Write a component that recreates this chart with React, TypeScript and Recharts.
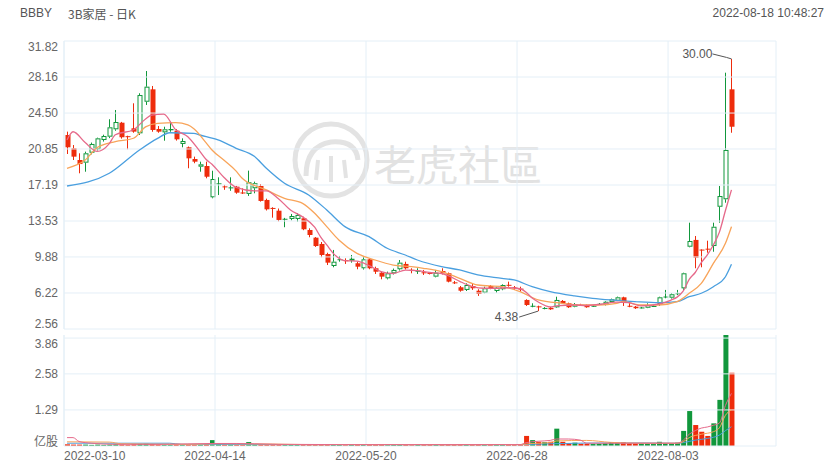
import React from "react";
import { ComposedChart, Bar, Line, XAxis, YAxis, ReferenceLine, ReferenceDot } from "recharts";

const UP = "#11973c";
const DOWN = "#ee2c0c";
const GRID = "#e4eff7";
const TEXT = "#666";
const MA_PINK = "#e6698a";
const MA_ORANGE = "#f8a45a";
const MA_BLUE = "#4a9fdf";

// trading days shown, 2022-03-10 .. 2022-08-17
const DATES = [
  "2022-03-10", "2022-03-11", "2022-03-14", "2022-03-15", "2022-03-16", "2022-03-17", "2022-03-18",
  "2022-03-21", "2022-03-22", "2022-03-23", "2022-03-24", "2022-03-25", "2022-03-28", "2022-03-29",
  "2022-03-30", "2022-03-31", "2022-04-01", "2022-04-04", "2022-04-05", "2022-04-06", "2022-04-07",
  "2022-04-08", "2022-04-11", "2022-04-12", "2022-04-13", "2022-04-14", "2022-04-18", "2022-04-19",
  "2022-04-20", "2022-04-21", "2022-04-22", "2022-04-25", "2022-04-26", "2022-04-27", "2022-04-28",
  "2022-04-29", "2022-05-02", "2022-05-03", "2022-05-04", "2022-05-05", "2022-05-06", "2022-05-09",
  "2022-05-10", "2022-05-11", "2022-05-12", "2022-05-13", "2022-05-16", "2022-05-17", "2022-05-18",
  "2022-05-19", "2022-05-20", "2022-05-23", "2022-05-24", "2022-05-25", "2022-05-26", "2022-05-27",
  "2022-05-31", "2022-06-01", "2022-06-02", "2022-06-03", "2022-06-06", "2022-06-07", "2022-06-08",
  "2022-06-09", "2022-06-10", "2022-06-13", "2022-06-14", "2022-06-15", "2022-06-16", "2022-06-17",
  "2022-06-21", "2022-06-22", "2022-06-23", "2022-06-24", "2022-06-27", "2022-06-28", "2022-06-29",
  "2022-06-30", "2022-07-01", "2022-07-05", "2022-07-06", "2022-07-07", "2022-07-08", "2022-07-11",
  "2022-07-12", "2022-07-13", "2022-07-14", "2022-07-15", "2022-07-18", "2022-07-19", "2022-07-20",
  "2022-07-21", "2022-07-22", "2022-07-25", "2022-07-26", "2022-07-27", "2022-07-28", "2022-07-29",
  "2022-08-01", "2022-08-02", "2022-08-03", "2022-08-04", "2022-08-05", "2022-08-08", "2022-08-09",
  "2022-08-10", "2022-08-11", "2022-08-12", "2022-08-15", "2022-08-16", "2022-08-17",
];

const OPEN = [
  22.27, 20.92, 19.73, 19.46, 20.47, 20.82, 21.76, 22.1, 22.85, 23.52, 22.15, 22.95, 22.44, 25.65, 26.91,
  22.88, 22.54, 22.75, 22.71, 21.36, 21.02, 19.83, 19.05, 19.12, 15.94, 17.3, 17.05, 16.9, 17.02, 16.43,
  16.28, 16.86, 17.09, 15.67, 14.86, 14.58, 13.7, 13.74, 13.74, 13.81, 12.62, 11.84, 11.2, 10.18, 8.96,
  9.6, 9.55, 9.5, 9.24, 8.73, 9.64, 8.73, 8.28, 7.71, 8.22, 8.63, 9.17, 8.58, 8.39, 8.32,
  8.25, 7.88, 8.45, 8.22, 7.3, 6.8, 6.53, 6.93, 6.45, 6.25, 6.93, 6.42, 6.6, 7.05, 6.8,
  6.66, 5.51, 4.88, 4.86, 4.63, 4.72, 4.76, 5.41, 5.17, 4.83, 5.02, 5.0, 4.88, 5.07, 5.0,
  5.3, 5.43, 5.78, 4.92, 4.83, 4.72, 4.72, 4.86, 5.1, 5.82, 5.74, 6.09, 6.69, 10.92, 11.61,
  10.63, 10.72, 10.99, 14.98, 15.74, 26.91,
];
const HIGH = [
  22.61, 21.25, 20.41, 20.58, 21.5, 22.0, 22.3, 23.87, 24.81, 23.6, 22.2, 25.49, 26.51, 28.77, 27.25,
  23.18, 23.11, 23.62, 22.88, 21.93, 21.1, 20.07, 19.56, 19.56, 18.64, 17.97, 17.2, 17.97, 17.1, 16.85,
  18.65, 17.53, 17.29, 15.8, 14.93, 14.8, 13.85, 14.25, 14.32, 13.97, 12.79, 11.9, 11.4, 10.31, 10.59,
  9.98, 9.74, 10.08, 9.4, 9.91, 9.74, 8.89, 8.39, 8.39, 8.7, 9.57, 9.4, 8.73, 8.73, 8.56,
  8.35, 8.56, 8.73, 8.3, 7.44, 6.93, 7.2, 7.2, 6.6, 6.86, 7.03, 6.86, 7.1, 7.37, 6.93,
  6.86, 5.58, 5.17, 4.93, 4.78, 4.8, 5.84, 5.5, 5.24, 5.2, 5.12, 5.05, 5.0, 5.2, 5.4,
  5.65, 5.85, 5.84, 5.33, 4.9, 4.8, 5.17, 5.0, 5.84, 6.53, 6.19, 6.53, 8.28, 13.36, 12.01,
  10.65, 11.53, 13.36, 17.09, 28.6, 30.0,
];
const LOW = [
  20.34, 19.73, 18.38, 18.54, 20.3, 20.7, 21.6, 21.95, 22.7, 21.9, 20.82, 22.5, 22.27, 25.32, 22.6,
  22.5, 21.69, 22.6, 21.7, 21.02, 18.89, 19.4, 18.54, 17.87, 15.84, 16.17, 16.7, 16.6, 16.3, 16.28,
  16.08, 16.35, 15.5, 14.6, 13.87, 13.5, 12.9, 13.6, 13.47, 12.6, 11.88, 10.9, 9.85, 9.06, 8.83,
  9.4, 9.17, 9.3, 8.63, 8.6, 8.63, 8.15, 7.61, 7.6, 8.1, 8.5, 8.6, 8.22, 8.15, 8.05,
  8.1, 7.81, 8.1, 7.3, 7.13, 6.35, 6.42, 6.53, 5.92, 6.19, 6.6, 6.25, 6.5, 6.86, 6.53,
  6.35, 4.9, 4.77, 4.38, 4.56, 4.5, 4.7, 5.1, 4.7, 4.77, 4.92, 4.72, 4.82, 5.0, 4.95,
  5.25, 5.4, 4.9, 4.77, 4.6, 4.65, 4.68, 4.8, 4.9, 5.68, 5.65, 6.0, 6.53, 10.86, 8.73,
  8.83, 10.31, 10.41, 13.36, 15.39, 22.5,
];
const CLOSE = [
  21.02, 20.07, 19.32, 20.41, 21.36, 21.93, 22.17, 23.05, 23.59, 22.04, 22.1, 22.61, 26.33, 27.18, 22.78,
  22.61, 22.85, 22.88, 21.83, 21.66, 19.9, 19.56, 19.29, 18.03, 17.8, 17.36, 17.0, 16.95, 16.41, 16.39,
  17.47, 17.37, 15.57, 14.72, 14.8, 13.64, 13.76, 14.04, 14.15, 12.69, 12.11, 10.99, 10.08, 9.3, 9.4,
  9.65, 9.5, 9.7, 8.89, 9.64, 8.73, 8.38, 7.88, 8.22, 8.56, 9.3, 8.73, 8.5, 8.48, 8.28,
  8.2, 8.28, 8.22, 7.37, 7.27, 6.45, 7.03, 6.7, 6.12, 6.7, 6.7, 6.76, 7.03, 7.0, 6.75,
  6.62, 5.0, 4.92, 4.82, 4.7, 4.56, 5.51, 5.17, 4.77, 5.1, 4.98, 4.77, 4.92, 5.12, 5.33,
  5.58, 5.78, 5.23, 4.88, 4.67, 4.75, 5.0, 4.9, 5.78, 5.86, 6.09, 6.19, 8.22, 11.5, 9.81,
  10.59, 10.69, 12.95, 16.07, 20.75, 23.11,
];
// volume, 亿股
const VOLUME = [
  0.06, 0.05, 0.05, 0.05, 0.04, 0.05, 0.04, 0.05, 0.06, 0.05, 0.04, 0.06, 0.07, 0.08, 0.07,
  0.05, 0.04, 0.04, 0.05, 0.04, 0.05, 0.04, 0.04, 0.06, 0.21, 0.07, 0.05, 0.05, 0.04, 0.04,
  0.14, 0.05, 0.05, 0.04, 0.04, 0.05, 0.04, 0.04, 0.04, 0.05, 0.04, 0.05, 0.05, 0.04, 0.05,
  0.04, 0.03, 0.04, 0.04, 0.04, 0.04, 0.04, 0.04, 0.03, 0.04, 0.05, 0.04, 0.03, 0.04, 0.04,
  0.04, 0.04, 0.04, 0.05, 0.04, 0.05, 0.04, 0.04, 0.05, 0.04, 0.04, 0.04, 0.05, 0.04, 0.04,
  0.04, 0.36, 0.21, 0.15, 0.14, 0.15, 0.62, 0.15, 0.1, 0.12, 0.08, 0.08, 0.07, 0.08, 0.1,
  0.14, 0.12, 0.14, 0.1, 0.09, 0.08, 0.08, 0.07, 0.15, 0.1, 0.08, 0.12, 0.54, 1.25, 0.75,
  0.51, 0.36, 0.81, 1.65, 3.97, 2.62,
];

// moving averages: [candle index, value]
const MA5: [number, number][] = [
  [0, 21.77], [1, 22.6], [3, 21.5], [5, 20.6], [7, 21.4], [8, 22.3], [11, 22.8], [13, 23.9], [14, 24.3],
  [16, 24.4], [18, 22.8], [20, 22.1], [22, 20.6], [23, 19.8], [24, 19.3], [26, 17.95], [28, 16.95],
  [31, 16.6], [33, 16.6], [35, 15.8], [37, 14.65], [39, 13.95], [41, 12.9], [42, 11.9], [43, 11.1],
  [44, 10.3], [46, 9.5], [48, 9.45], [50, 9.0], [52, 8.4], [54, 8.2], [56, 8.55], [58, 8.5], [60, 8.3],
  [62, 8.2], [63, 8.0], [65, 7.4], [67, 6.9], [69, 6.7], [71, 6.7], [73, 6.75], [75, 6.65], [76, 6.3],
  [77, 5.7], [78, 5.3], [80, 4.8], [81, 4.9], [84, 5.0], [86, 4.95], [88, 5.05], [91, 5.3], [93, 5.25],
  [95, 4.9], [98, 5.1], [100, 5.5], [101, 5.8], [102, 6.4], [103, 7.6], [104, 8.3], [105, 9.3],
  [106, 10.1], [107, 11.1], [108, 12.4], [109, 14.6], [110, 16.7],
];
const MA10: [number, number][] = [
  [0, 18.89], [3, 19.73], [5, 21.0], [8, 21.6], [11, 21.94], [13, 23.1], [15, 23.46], [18, 23.52],
  [20, 23.29], [21, 22.9], [23, 21.5], [24, 20.75], [26, 19.7], [28, 18.6], [29, 17.87], [33, 16.69],
  [36, 15.84], [39, 15.33], [41, 14.32], [43, 12.96], [45, 11.61], [48, 10.25], [51, 9.57], [54, 9.06],
  [57, 8.89], [59, 8.73], [62, 8.39], [65, 7.71], [68, 7.03], [72, 6.86], [75, 6.35], [78, 5.51],
  [82, 5.17], [85, 5.0], [88, 5.0], [91, 5.17], [92, 5.34], [95, 5.0], [98, 5.0], [101, 5.34],
  [103, 6.19], [105, 7.2], [107, 9.23], [109, 11.27], [110, 12.96],
];
const MA20: [number, number][] = [
  [0, 17.09], [7, 18.38], [12, 20.75], [15, 21.93], [17, 22.5], [21, 22.44], [22, 22.27], [25, 21.77],
  [28, 20.92], [31, 20.1], [33, 18.89], [36, 17.37], [40, 16.18], [43, 14.65], [46, 12.96], [50, 11.94],
  [53, 10.76], [56, 10.08], [58, 9.57], [62, 8.89], [65, 8.56], [68, 8.05], [72, 7.71], [74, 7.54],
  [77, 6.86], [80, 6.35], [84, 5.92], [87, 5.68], [90, 5.51], [94, 5.34], [98, 5.23], [101, 5.34],
  [103, 5.84], [105, 6.19], [107, 6.86], [109, 7.87], [110, 9.13],
];
const VMA5: [number, number][] = [
  [0, 0.3], [1, 0.3], [2, 0.16], [4, 0.1], [8, 0.06], [16, 0.06], [24, 0.09], [28, 0.09], [31, 0.08],
  [35, 0.06], [45, 0.05], [60, 0.05], [75, 0.05], [76, 0.12], [78, 0.17], [80, 0.2], [81, 0.25],
  [83, 0.25], [85, 0.21], [86, 0.1], [90, 0.1], [95, 0.1], [101, 0.1], [102, 0.2], [103, 0.42],
  [104, 0.55], [105, 0.64], [106, 0.68], [107, 0.74], [108, 0.82], [109, 1.45], [110, 1.88],
];
const VMA10: [number, number][] = [
  [0, 0.15], [7, 0.14], [9, 0.08], [20, 0.06], [25, 0.08], [34, 0.07], [40, 0.05], [75, 0.05],
  [77, 0.09], [80, 0.12], [81, 0.18], [86, 0.2], [90, 0.13], [95, 0.1], [101, 0.1], [102, 0.15],
  [103, 0.3], [105, 0.42], [107, 0.51], [108, 0.65], [109, 1.1], [110, 1.29],
];
const VMA20: [number, number][] = [
  [0, 0.1], [17, 0.1], [19, 0.06], [40, 0.05], [75, 0.05], [80, 0.08], [90, 0.11], [96, 0.11],
  [101, 0.1], [102, 0.12], [104, 0.21], [106, 0.27], [108, 0.39], [109, 0.55], [110, 0.69],
];

const PRICE_TICKS = [31.82, 28.16, 24.5, 20.85, 17.19, 13.53, 9.88, 6.22, 2.56];
const VOL_TICKS = [3.86, 2.58, 1.29, 0];
const DATE_TICKS = [DATES[0], DATES[25], DATES[50], DATES[75], DATES[100]];

const PLOT_W = 712;
const PAD_RIGHT = 41.5;
const SLOT = (PLOT_W - PAD_RIGHT) / DATES.length;

const pick = (pts: [number, number][]) => {
  const m = new Map(pts);
  return (i: number) => (m.has(i) ? m.get(i)! : null);
};
const ma5 = pick(MA5), ma10 = pick(MA10), ma20 = pick(MA20);
const vma5 = pick(VMA5), vma10 = pick(VMA10), vma20 = pick(VMA20);

const rows = DATES.map((date, i) => ({
  date,
  o: OPEN[i], h: HIGH[i], l: LOW[i], c: CLOSE[i], v: VOLUME[i],
  ma5: ma5(i), ma10: ma10(i), ma20: ma20(i),
  vma5: vma5(i), vma10: vma10(i), vma20: vma20(i),
}));

let hiIdx = 0, loIdx = 0;
HIGH.forEach((h, i) => { if (h > HIGH[hiIdx]) hiIdx = i; });
LOW.forEach((l, i) => { if (l < LOW[loIdx]) loIdx = i; });

const FONT = '"Liberation Sans", Arial, sans-serif';

function Candle(props: any) {
  const { x, y, width, height, payload } = props;
  const { o, h, l, c } = payload;
  const top = Math.min(y, y + height);
  const span = Math.abs(height);
  const py = (v: number) => top + ((h - v) / (h - l || 1)) * span;
  const cx = Math.floor(x + width / 2) + 0.5;
  const up = c >= o;
  const color = up ? UP : DOWN;
  const y1 = py(Math.max(o, c));
  const y2 = py(Math.min(o, c));
  const bh = Math.max(y2 - y1, 1);
  const bx = cx - 2;
  if (up && bh > 2) {
    return (
      <g>
        <line x1={cx} x2={cx} y1={top} y2={y1} stroke={color} strokeWidth={1} />
        <line x1={cx} x2={cx} y1={y1 + bh} y2={top + span} stroke={color} strokeWidth={1} />
        <rect x={bx + 0.5} y={y1 + 0.5} width={4} height={bh - 1} fill="#fff" stroke={color} strokeWidth={1} />
      </g>
    );
  }
  return (
    <g>
      <line x1={cx} x2={cx} y1={top} y2={top + span} stroke={color} strokeWidth={1} />
      <rect x={bx} y={y1} width={5} height={bh} fill={color} />
    </g>
  );
}

function VolBar(props: any) {
  const { x, y, width, height, payload } = props;
  return <rect x={x} y={y} width={width} height={Math.max(height, 0.8)} fill={payload.c >= payload.o ? UP : DOWN} />;
}

const yTick = (ticks: number[], side: "left" | "right", zeroLabel?: string) => (props: any) => {
  const { x, y, payload } = props;
  const v = payload.value;
  const dy = v === ticks[0] ? 6 : v === ticks[ticks.length - 1] ? (zeroLabel ? -6 : -5) : 0;
  const label = v === 0 && zeroLabel ? zeroLabel : v.toFixed(2);
  return (
    <text x={x} y={y + dy} textAnchor={side === "left" ? "end" : "start"} dominantBaseline="central"
      fontSize={12} fill={TEXT} fontFamily={v === 0 && zeroLabel ? '"Noto Sans CJK SC", sans-serif' : FONT}>
      {label}
    </text>
  );
};

function DateTick(props: any) {
  const { x, y, payload } = props;
  const first = payload.value === DATES[0];
  return (
    <text x={x - SLOT / 2} y={y + 10} textAnchor={first ? "start" : "middle"} dominantBaseline="central"
      fontSize={12} fill={TEXT} fontFamily={FONT}>
      {payload.value}
    </text>
  );
}

function HighLabel(props: any) {
  const { cx, cy } = props;
  return (
    <g>
      <polyline points={`${cx - 19},${cy - 5} ${cx - 5},${cy - 1.5} ${cx},${cy}`} fill="none" stroke="#555" strokeWidth={1} />
      <text x={cx - 19} y={cy - 5} textAnchor="end" dominantBaseline="central" fontSize={12} fill="#555" fontFamily={FONT}>
        {HIGH[hiIdx].toFixed(2)}
      </text>
    </g>
  );
}

function LowLabel(props: any) {
  const { cx, cy } = props;
  return (
    <g>
      <line x1={cx - 19} y1={cy + 6} x2={cx} y2={cy} stroke="#555" strokeWidth={1} />
      <text x={cx - 20} y={cy + 6} textAnchor="end" dominantBaseline="central" fontSize={12} fill="#555" fontFamily={FONT}>
        {LOW[loIdx].toFixed(2)}
      </text>
    </g>
  );
}

function Watermark() {
  return (
    <svg width={840} height={470} style={{ position: "absolute", left: 0, top: 0 }}>
      <g stroke="#e3e3e3" fill="none" strokeWidth={5}>
        <circle cx={331} cy={160} r={36} />
        <path d="M306 176 Q306 146 331 142 Q356 140 358 160" />
        <path d="M316 180 L318 160 M331 182 L331 156 M346 178 L344 160" strokeWidth={4} />
      </g>
      <text x={374} y={162} dominantBaseline="central" fontSize={42} fill="#e2e2e2"
        fontFamily='"Noto Sans CJK TC", "Noto Sans CJK SC", sans-serif'>
        老虎社區
      </text>
    </svg>
  );
}

export default function App() {
  const xAxisProps = { dataKey: "date", padding: { left: 0, right: PAD_RIGHT } };
  return (
    <div style={{ position: "absolute", left: 0, top: 0, width: 840, height: 470, background: "#fff", overflow: "hidden", fontFamily: FONT }}>
      <Watermark />
      <div style={{ position: "absolute", left: 20, top: 6, fontSize: 12, color: "#555" }}>BBBY</div>
      <div style={{ position: "absolute", left: 68, top: 6, fontSize: 12, color: "#555", fontFamily: '"Noto Sans CJK SC", sans-serif', lineHeight: "15px" }}>3B家居 - 日K</div>
      <div style={{ position: "absolute", right: 16, top: 6, fontSize: 12, color: "#555" }}>2022-08-18 10:48:27</div>

      <div style={{ position: "absolute", left: 0, top: 0 }}>
        <ComposedChart width={840} height={335} data={rows} margin={{ top: 41, right: 4, bottom: 6, left: 4 }}>
          <XAxis {...xAxisProps} hide />
          <YAxis yAxisId="left" orientation="left" width={60} domain={[2.56, 31.82]} ticks={PRICE_TICKS} interval={0}
            axisLine={{ stroke: GRID }} tickLine={false} tickSize={0} tickMargin={6} tick={yTick(PRICE_TICKS, "left")} />
          <YAxis yAxisId="right" orientation="right" width={60} domain={[2.56, 31.82]} ticks={PRICE_TICKS} interval={0}
            axisLine={{ stroke: GRID }} tickLine={false} tickSize={0} tickMargin={6} tick={yTick(PRICE_TICKS, "right")} />
          {PRICE_TICKS.map((t) => (
            <ReferenceLine key={t} yAxisId="left" y={t} stroke={GRID} />
          ))}
          {DATE_TICKS.map((d) => (
            <ReferenceLine key={d} yAxisId="left" x={d} position="start" stroke={GRID} />
          ))}
          <Bar yAxisId="left" dataKey={(d: any) => [d.l, d.h]} barSize={5} shape={<Candle />} isAnimationActive={false} />
          <Line yAxisId="left" dataKey="ma20" type="monotone" stroke={MA_BLUE} strokeWidth={1.3} dot={false} connectNulls isAnimationActive={false} />
          <Line yAxisId="left" dataKey="ma10" type="monotone" stroke={MA_ORANGE} strokeWidth={1.3} dot={false} connectNulls isAnimationActive={false} />
          <Line yAxisId="left" dataKey="ma5" type="monotone" stroke={MA_PINK} strokeWidth={1.3} dot={false} connectNulls isAnimationActive={false} />
          <ReferenceDot yAxisId="left" x={DATES[hiIdx]} y={HIGH[hiIdx]} shape={<HighLabel />} />
          <ReferenceDot yAxisId="left" x={DATES[loIdx]} y={LOW[loIdx]} shape={<LowLabel />} />
        </ComposedChart>
      </div>

      <div style={{ position: "absolute", left: 0, top: 300 }}>
        <ComposedChart width={840} height={170} data={rows} margin={{ top: 35, right: 4, bottom: 0, left: 4 }}>
          <XAxis {...xAxisProps} height={24} ticks={DATE_TICKS} interval={0} axisLine={false} tickLine={false}
            tickSize={0} tickMargin={0} tick={<DateTick />} />
          <YAxis yAxisId="left" orientation="left" width={60} domain={[0, 3.97]} ticks={VOL_TICKS} interval={0}
            axisLine={{ stroke: GRID }} tickLine={false} tickSize={0} tickMargin={6} tick={yTick(VOL_TICKS, "left", "亿股")} />
          <YAxis yAxisId="right" orientation="right" width={60} domain={[0, 3.97]} ticks={VOL_TICKS} interval={0}
            axisLine={{ stroke: GRID }} tickLine={false} tickSize={0} tickMargin={6} tick={yTick(VOL_TICKS, "right", "亿股")} />
          {VOL_TICKS.map((t) => (
            <ReferenceLine key={t} yAxisId="left" y={t} stroke={GRID} />
          ))}
          {DATE_TICKS.map((d) => (
            <ReferenceLine key={d} yAxisId="left" x={d} position="start" stroke={GRID} />
          ))}
          <Bar yAxisId="left" dataKey="v" barSize={5} shape={<VolBar />} isAnimationActive={false} />
          <Line yAxisId="left" dataKey="vma20" type="monotone" stroke={MA_BLUE} strokeWidth={1} dot={false} connectNulls isAnimationActive={false} />
          <Line yAxisId="left" dataKey="vma10" type="monotone" stroke={MA_ORANGE} strokeWidth={1} dot={false} connectNulls isAnimationActive={false} />
          <Line yAxisId="left" dataKey="vma5" type="monotone" stroke={MA_PINK} strokeWidth={1} dot={false} connectNulls isAnimationActive={false} />
        </ComposedChart>
      </div>
    </div>
  );
}
